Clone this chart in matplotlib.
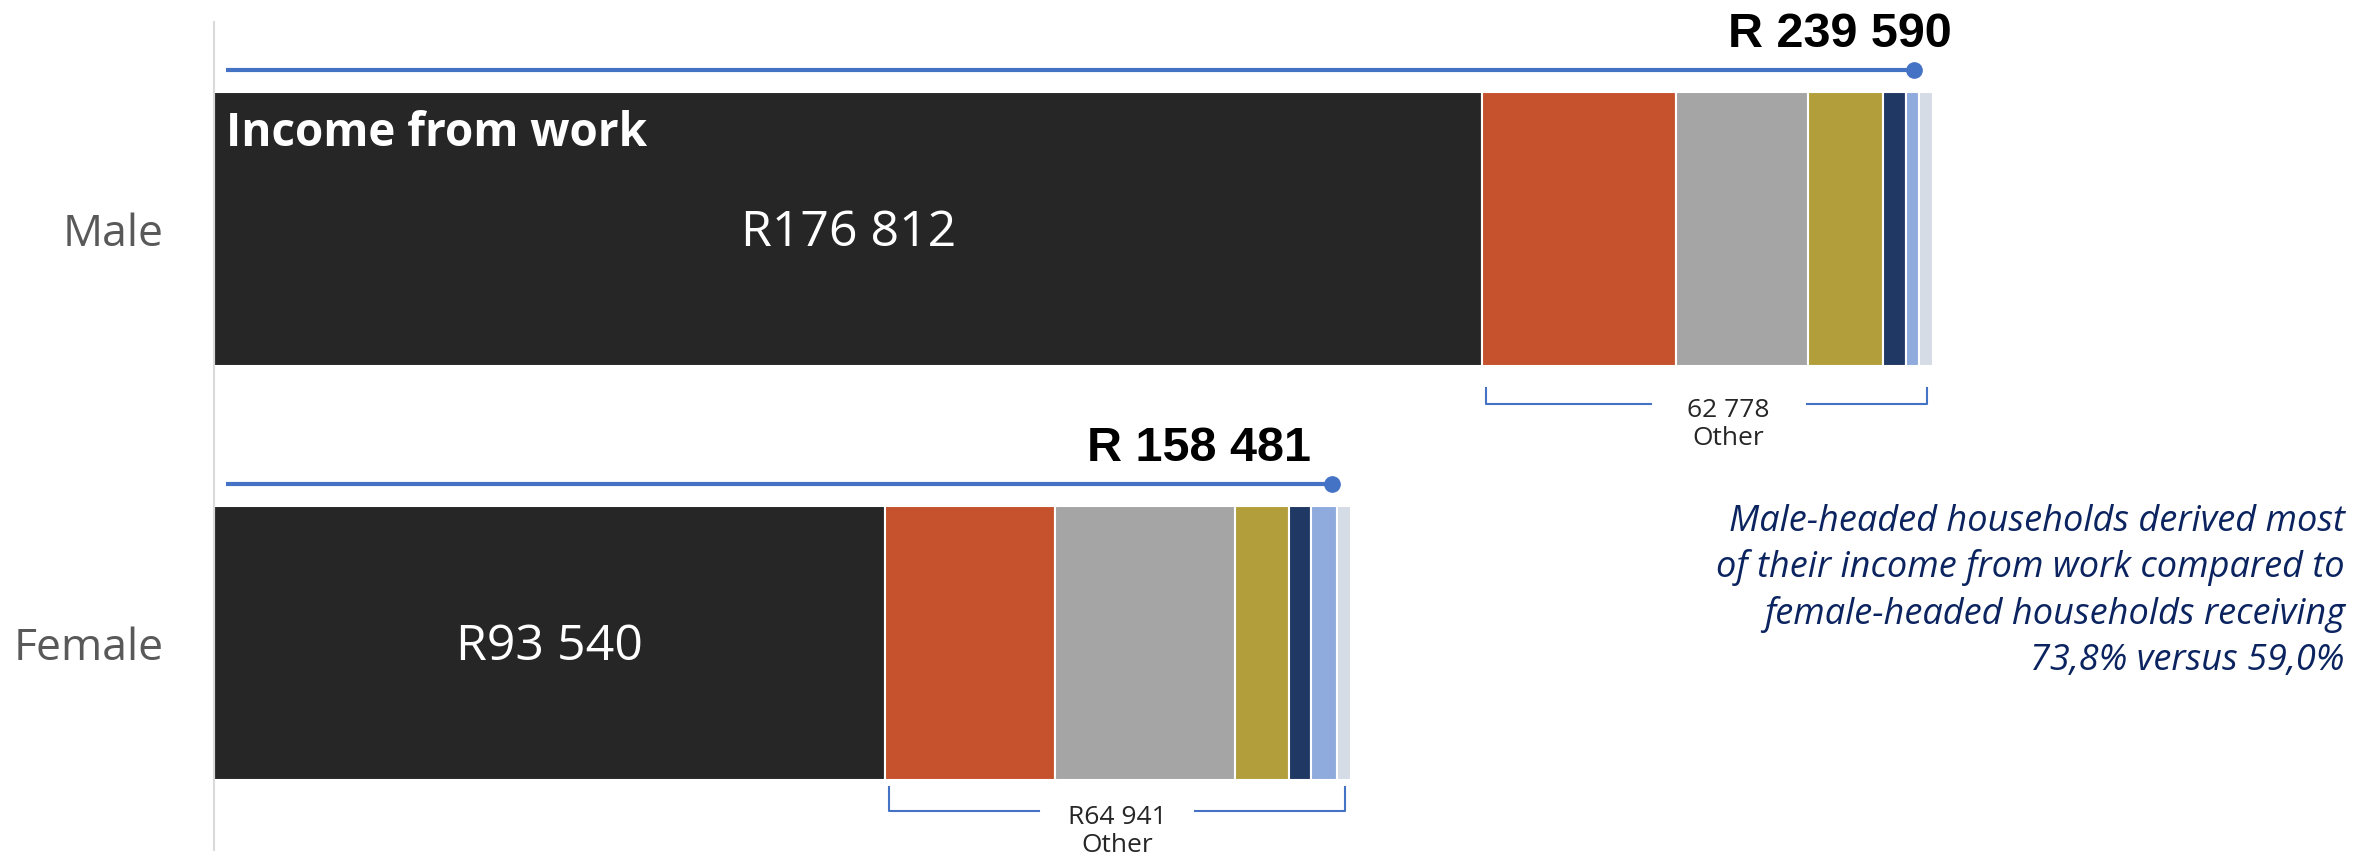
import matplotlib.pyplot as plt

# data
groups = ["Male", "Female"]
work_income = [176812, 93540]
work_labels = ["R176 812", "R93 540"]
# other income sources, in stack order
other_parts = [
    [27050, 18340, 10390, 3280, 1810, 1908],
    [23660, 25140, 7530, 3025, 3590, 1996],
]
other_labels = ["62 778", "R64 941"]
total_labels = ["R 239 590", "R 158 481"]
note_lines = [
    "Male-headed households derived most",
    "of their income from work compared to",
    "female-headed households receiving",
    "73,8% versus 59,0%",
]

work_color = "#262626"
part_colors = ["#C5522D", "#A5A5A5", "#B29E3A", "#203864", "#8FAADC", "#D6DCE5"]
line_color = "#4472C4"

W, H, DPI = 2376, 855, 100
left_px = 214
units_per_px = 139.4

fig = plt.figure(figsize=(W / DPI, H / DPI), dpi=DPI)
ax = fig.add_axes([left_px / W, 0, 1 - left_px / W, 1])
ax.set_xlim(0, (W - left_px) * units_per_px)
ax.set_ylim(1.512, -0.553)

ypos = list(range(len(groups)))
bar_h = 0.662

# per row placement tweaks (as in the reference)
label_dx = [2600, -5600]
bracket_y = [0.423, 0.406]
bracket_tick = [0.039, 0.059]
other_dx = [22 * units_per_px, 0]

for i, y in enumerate(ypos):
    ax.barh(y, work_income[i], height=bar_h, color=work_color,
            edgecolor="white", linewidth=1.5)
    left = work_income[i]
    for val, col in zip(other_parts[i], part_colors):
        ax.barh(y, val, left=left, height=bar_h, color=col,
                edgecolor="white", linewidth=1.5)
        left += val
    total = left

    # value inside the work segment
    ax.text(work_income[i] / 2, y + 0.01, work_labels[i], color="white",
            ha="center", va="center", fontsize=36, family="Open Sans")

    # total line with dot
    line_end = total - 2600
    ax.plot([1700, line_end], [y - 0.385, y - 0.385], color=line_color, lw=3,
            solid_capstyle="butt")
    ax.plot(line_end, y - 0.385, "o", color=line_color, ms=11)
    ax.text(total + label_dx[i], y - 0.44, total_labels[i], ha="right",
            va="baseline", fontsize=35, fontweight="bold",
            family="Liberation Sans", color="black")

    # bracket under "other"
    bx0 = work_income[i] + 550
    bx1 = total - 800
    mid = (bx0 + bx1) / 2 + other_dx[i]
    gap = 78 * units_per_px
    by = y + bracket_y[i]
    top = by - bracket_tick[i]
    ax.plot([bx0, bx0, mid - gap], [top, by, by], color=line_color, lw=1.5)
    ax.plot([mid + gap, bx1, bx1], [by, by, top], color=line_color, lw=1.5)
    ax.text(mid, by + 0.03, other_labels[i], ha="center", va="baseline",
            fontsize=19, family="Open Sans", color="#262626")
    ax.text(mid, by + 0.098, "Other", ha="center", va="baseline",
            fontsize=19, family="Open Sans", color="#262626")

ax.text(12 * units_per_px, -0.2, "Income from work", color="white",
        ha="left", va="baseline", fontsize=33, fontweight="bold",
        family="Open Sans")

ax.set_yticks(ypos)
ax.set_yticklabels(groups, fontsize=32, color="#595959", family="Open Sans")
ax.tick_params(axis="y", length=0, pad=36)
ax.set_xticks([])
for s in ["top", "right", "bottom"]:
    ax.spines[s].set_visible(False)
ax.spines["left"].set_color("#D9D9D9")
ax.spines["left"].set_linewidth(1.5)
ax.spines["left"].set_bounds(-0.5, 1.5)

# side note
for k, line in enumerate(note_lines):
    fig.text(2345 / W, 1 - (531 + k * 46.3) / H, line, ha="right",
             va="baseline", fontsize=26, style="italic",
             family="Open Sans", color="#0B2460")

fig.savefig("out.png", dpi=DPI)
